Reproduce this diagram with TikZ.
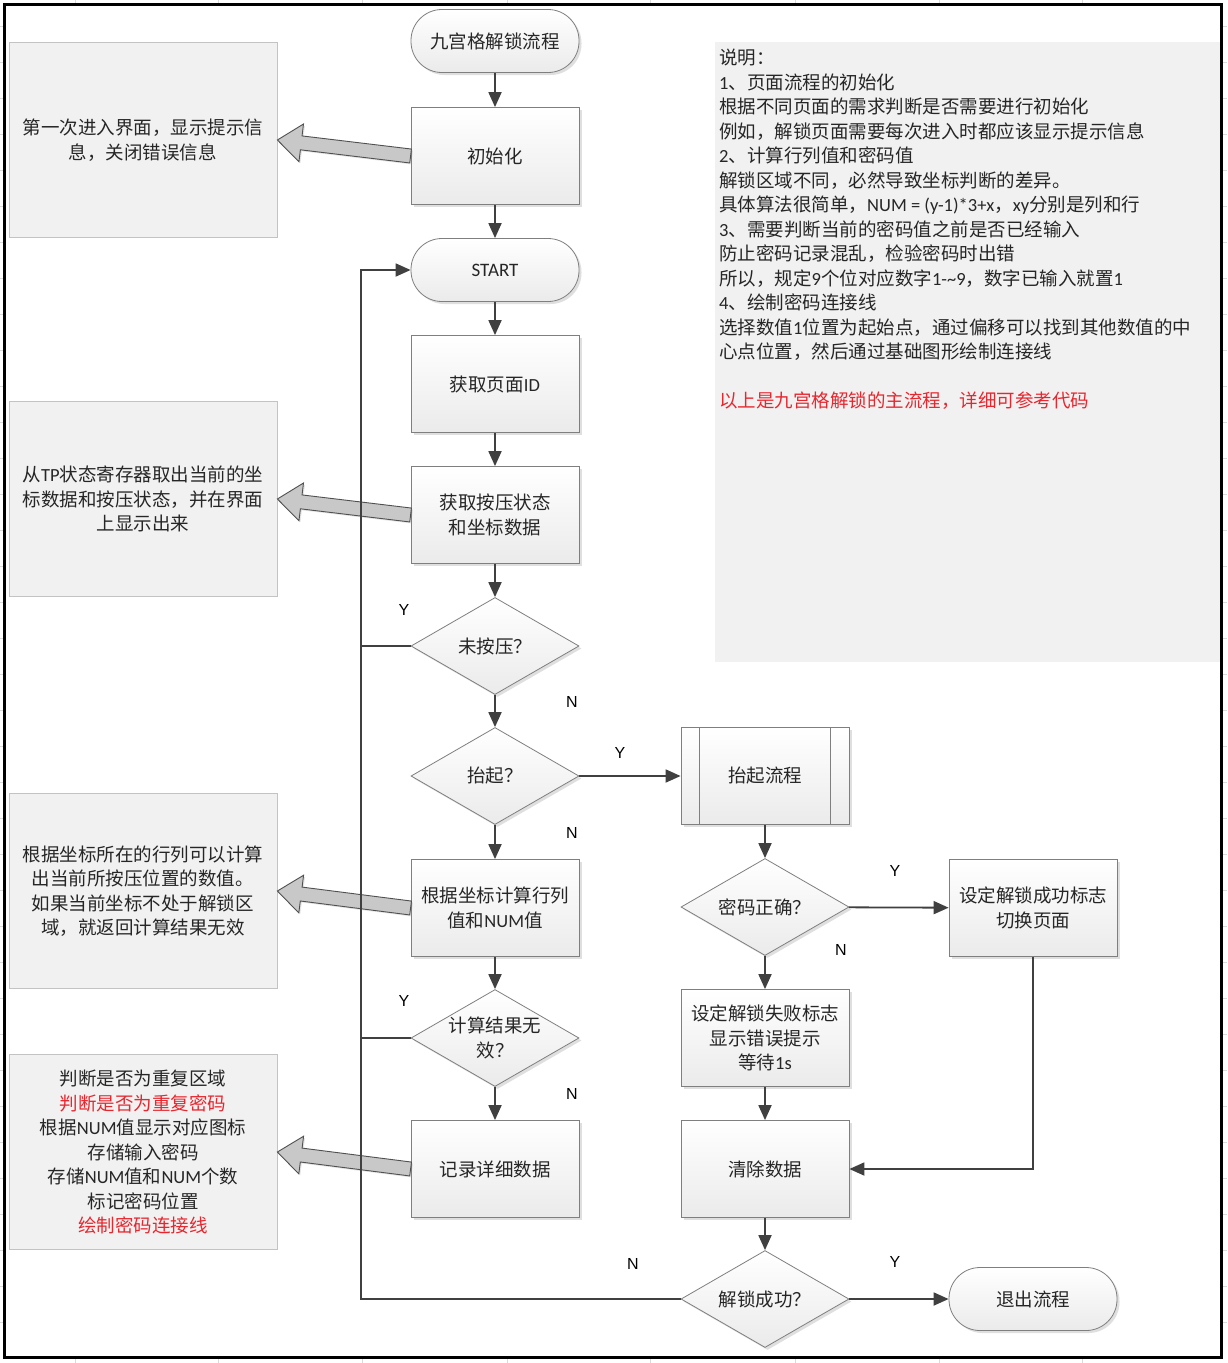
\documentclass[tikz,border=0pt]{standalone}
\usepackage{fontspec}
\setmainfont{Noto Sans CJK SC}
\newfontfamily\lat{Carlito}
\newfontfamily\ynfont{Liberation Sans}
\usetikzlibrary{shapes.geometric,arrows.meta,calc,shadows}

\definecolor{txt}{HTML}{262626}
\definecolor{cconn}{HTML}{404040}
\definecolor{bord}{HTML}{7F7F7F}
\definecolor{notefill}{HTML}{F1F1F1}
\definecolor{notebord}{HTML}{C3C3C3}
\definecolor{redtxt}{HTML}{E8262E}
\definecolor{barfill}{HTML}{C8C8C8}
\definecolor{barbord}{HTML}{505050}
\definecolor{gridc}{HTML}{DADADA}

\newcommand\bigarrow[2]{%
  \coordinate (ba-t) at (#1);
  \coordinate (ba-p) at (#2);
  \coordinate (ba-b) at ($(ba-p)!24pt!(ba-t)$);
  \draw[barrow] ($(ba-t)!7pt!90:(ba-p)$) -- ($(ba-b)!7pt!90:(ba-p)$) -- ($(ba-b)!19pt!90:(ba-p)$) -- (ba-p)
    -- ($(ba-b)!19pt!-90:(ba-p)$) -- ($(ba-b)!7pt!-90:(ba-p)$) -- ($(ba-t)!7pt!-90:(ba-p)$) -- cycle;}

\begin{document}
\begin{tikzpicture}[x=1pt,y=-1pt,
  font=\fontsize{18.5}{24.5}\selectfont, text=txt,
  proc/.style={draw=bord, line width=0.8pt, top color=white, bottom color=gray!16,
    minimum width=168pt, minimum height=97pt, inner sep=2pt, align=center,
    drop shadow={shadow xshift=2.5pt, shadow yshift=-2.5pt, opacity=0.25}},
  term/.style={proc, minimum height=63pt, rounded corners=31pt},
  dec/.style={proc, diamond, minimum width=168pt, minimum height=97pt, inner sep=0pt, shape aspect=1.73},
  note/.style={draw=notebord, fill=notefill, line width=0.8pt, minimum width=268pt,
    minimum height=195pt, align=center, inner sep=4pt},
  wire/.style={draw=cconn, line width=1.8pt},
  arr/.style={wire, -{Triangle[length=15pt,width=13pt]}},
  ynlab/.style={font=\ynfont\fontsize{16}{16}\selectfont, text=black},
  barrow/.style={draw=barbord, fill=barfill, line width=0.9pt, line join=miter,
    drop shadow={shadow xshift=1.5pt, shadow yshift=-1.5pt, opacity=0.2}}
]
\useasboundingbox (0,0) rectangle (1227,1363);
\fill[white] (0,0) rectangle (1227,1363);

% faint spreadsheet grid in the margins
\foreach \gx in {75,218,362,507,650,795,939,1082}{
  \draw[gridc, line width=0.8pt] (\gx,0) -- (\gx,4);
  \draw[gridc, line width=0.8pt] (\gx,1357) -- (\gx,1363);}
\foreach \gy in {26,62,...,1350}{
  \draw[gridc, line width=0.8pt] (0,\gy) -- (4,\gy);
  \draw[gridc, line width=0.8pt] (1222,\gy) -- (1227,\gy);}

% frame
\draw[black, line width=3pt] (4,4) rectangle (1221,1357);

% description panel
\node[fill=notefill, minimum width=505pt, minimum height=620pt, inner sep=0pt, anchor=north west] (desc) at (715,42) {};
\node[anchor=north west, align=left, inner sep=0pt] (desctext) at (719,49) {%
说明：\\
{\lat 1}、页面流程的初始化\\
根据不同页面的需求判断是否需要进行初始化\\
例如，解锁页面需要每次进入时都应该显示提示信息\\
{\lat 2}、计算行列值和密码值\\
解锁区域不同，必然导致坐标判断的差异。\\
具体算法很简单，{\lat NUM = (y-1)*3+x}，{\lat xy}分别是列和行\\
{\lat 3}、需要判断当前的密码值之前是否已经输入\\
防止密码记录混乱，检验密码时出错\\
所以，规定{\lat 9}个位对应数字{\lat 1-\textasciitilde 9}，数字已输入就置{\lat 1}\\
{\lat 4}、绘制密码连接线\\
选择数值{\lat 1}位置为起始点，通过偏移可以找到其他数值的中\\
心点位置，然后通过基础图形绘制连接线\\[24.5pt]
\textcolor{redtxt}{以上是九宫格解锁的主流程，详细可参考代码}};

% notes
\node[note] (n1) at (143,140) {第一次进入界面，显示提示信\\息，关闭错误信息};
\node[note] (n2) at (143,499) {从{\lat TP}状态寄存器取出当前的坐\\标数据和按压状态，并在界面\\上显示出来};
\node[note] (n3) at (143,891) {根据坐标所在的行列可以计算\\出当前所按压位置的数值。\\如果当前坐标不处于解锁区\\域，就返回计算结果无效};
\node[note] (n4) at (143,1152) {判断是否为重复区域\\\textcolor{redtxt}{判断是否为重复密码}\\根据{\lat NUM}值显示对应图标\\存储输入密码\\存储{\lat NUM}值和{\lat NUM}个数\\标记密码位置\\\textcolor{redtxt}{绘制密码连接线}};

% main column
\node[term] (t0) at (495,41) {九宫格解锁流程};
\node[proc] (init) at (495,156) {初始化};
\node[term] (start) at (495,270) {\lat\fontsize{19}{20}\selectfont START};
\node[proc] (pid) at (495,384) {获取页面{\lat ID}};
\node[proc] (press) at (495,515) {获取按压状态\\和坐标数据};
\node[dec] (np) at (495,646) {未按压？};
\node[dec] (lift) at (495,776) {抬起？};
\node[proc] (calc) at (495,908) {根据坐标计算行列\\值和{\lat NUM}值};
\node[dec] (inv) at (495,1038) {计算结果无\\效？};
\node[proc] (rec) at (495,1169) {记录详细数据};

% second column
\node[proc] (liftp) at (765,776) {抬起流程};
\draw[draw=bord, line width=0.8pt] ($(liftp.north west)+(19,0)$) -- ($(liftp.south west)+(19,0)$);
\draw[draw=bord, line width=0.8pt] ($(liftp.north east)+(-19,0)$) -- ($(liftp.south east)+(-19,0)$);
\node[dec] (pwd) at (765,907) {密码正确？};
\node[proc] (fail) at (765,1038) {设定解锁失败标志\\显示错误提示\\等待{\lat 1s}};
\node[proc] (clr) at (765,1169) {清除数据};
\node[dec] (ok) at (765,1299) {解锁成功？};

% third column
\node[proc] (succ) at (1033,908) {设定解锁成功标志\\切换页面};
\node[term] (exit) at (1033,1299) {退出流程};

% block arrows to notes
\bigarrow{init.west}{n1.east}
\bigarrow{press.west}{n2.east}
\bigarrow{calc.west}{n3.east}
\bigarrow{rec.west}{n4.east}

% connectors
\coordinate (loopx) at (361,0);
\draw[arr] (t0) -- (init);
\draw[arr] (init) -- (start);
\draw[arr] (start) -- (pid);
\draw[arr] (pid) -- (press);
\draw[arr] (press) -- (np);
\draw[arr] (np) -- (lift);
\draw[arr] (lift) -- (calc);
\draw[arr] (calc) -- (inv);
\draw[arr] (inv) -- (rec);
\draw[arr] (lift) -- (liftp);
\draw[arr] (liftp) -- (pwd);
\draw[arr] (pwd) -- (succ);
\draw[arr] (pwd) -- (fail);
\draw[arr] (fail) -- (clr);
\draw[arr] (succ.south) |- (clr.east);
\draw[arr] (clr) -- (ok);
\draw[arr] (ok) -- (exit);
\draw[arr] (ok.west) -- (ok.west -| loopx) |- (start.west);
\draw[wire] (np.west) -- (np.west -| loopx);
\draw[wire] (inv.west) -- (inv.west -| loopx);

% Y / N labels
\node[ynlab] (y1) at (404,610) {Y};
\node[ynlab] (nl1) at (572,702) {N};
\node[ynlab] (y2) at (620,753) {Y};
\node[ynlab] (nl2) at (572,833) {N};
\node[ynlab] (y3) at (404,1001) {Y};
\node[ynlab] (nl3) at (572,1094) {N};
\node[ynlab] (y4) at (895,871) {Y};
\node[ynlab] (nl4) at (841,950) {N};
\node[ynlab] (nl5) at (633,1264) {N};
\node[ynlab] (y5) at (895,1262) {Y};
\end{tikzpicture}
\end{document}
